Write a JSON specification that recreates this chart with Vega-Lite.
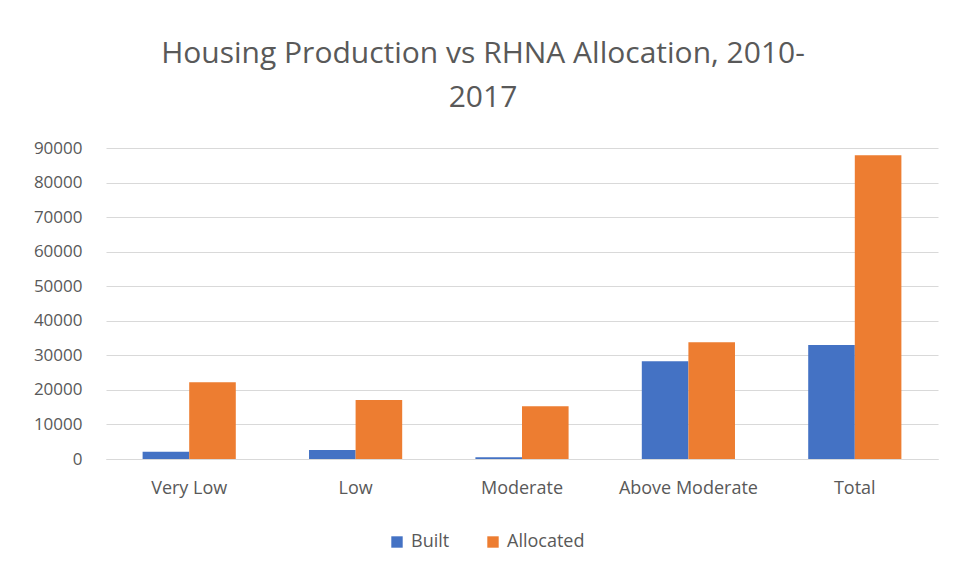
{
  "$schema": "https://vega.github.io/schema/vega-lite/v6.json",
  "width": 832,
  "height": 311,
  "autosize": {"type": "none"},
  "padding": {"left": 106, "top": 148, "right": 18, "bottom": 120},
  "background": "white",
  "title": {
    "text": ["Housing Production vs RHNA Allocation, 2010-", "2017"],
    "font": "Open Sans",
    "fontSize": 30,
    "fontWeight": "normal",
    "color": "#595959",
    "anchor": "middle",
    "lineHeight": 44,
    "offset": 26,
    "dx": -39
  },
  "data": {
    "values": [
      {"category": "Very Low", "series": "Built", "units": 2100},
      {"category": "Very Low", "series": "Allocated", "units": 22200},
      {"category": "Low", "series": "Built", "units": 2600},
      {"category": "Low", "series": "Allocated", "units": 17100},
      {"category": "Moderate", "series": "Built", "units": 500},
      {"category": "Moderate", "series": "Allocated", "units": 15300},
      {"category": "Above Moderate", "series": "Built", "units": 28300},
      {"category": "Above Moderate", "series": "Allocated", "units": 33800},
      {"category": "Total", "series": "Built", "units": 33000},
      {"category": "Total", "series": "Allocated", "units": 87900}
    ]
  },
  "mark": {"type": "bar"},
  "encoding": {
    "x": {
      "field": "category",
      "type": "nominal",
      "sort": ["Very Low", "Low", "Moderate", "Above Moderate", "Total"],
      "scale": {"paddingInner": 0.44, "paddingOuter": 0.22},
      "axis": {
        "title": null,
        "labelAngle": 0,
        "ticks": false,
        "domain": true,
        "domainColor": "#d9d9d9",
        "labelFont": "Open Sans",
        "labelFontSize": 18,
        "labelColor": "#595959",
        "labelPadding": 20
      }
    },
    "xOffset": {
      "field": "series",
      "type": "nominal",
      "sort": ["Built", "Allocated"],
      "scale": {"paddingInner": 0, "paddingOuter": 0}
    },
    "y": {
      "field": "units",
      "type": "quantitative",
      "scale": {"domain": [0, 90000], "nice": false},
      "axis": {
        "title": null,
        "values": [0, 10000, 20000, 30000, 40000, 50000, 60000, 70000, 80000, 90000],
        "format": "d",
        "domain": false,
        "ticks": false,
        "gridColor": "#d9d9d9",
        "labelFont": "Open Sans",
        "labelFontSize": 17,
        "labelColor": "#595959",
        "labelPadding": 24
      }
    },
    "color": {
      "field": "series",
      "type": "nominal",
      "sort": ["Built", "Allocated"],
      "scale": {"domain": ["Built", "Allocated"], "range": ["#4472C4", "#ED7D31"]},
      "legend": {
        "title": null,
        "orient": "none",
        "direction": "horizontal",
        "legendX": 282,
        "legendY": 385,
        "symbolType": "square",
        "symbolSize": 130,
        "symbolStrokeWidth": 0,
        "labelFont": "Open Sans",
        "labelFontSize": 18,
        "labelColor": "#595959",
        "columnPadding": 34,
        "labelOffset": 5
      }
    }
  },
  "config": {
    "view": {"stroke": null}
  }
}
